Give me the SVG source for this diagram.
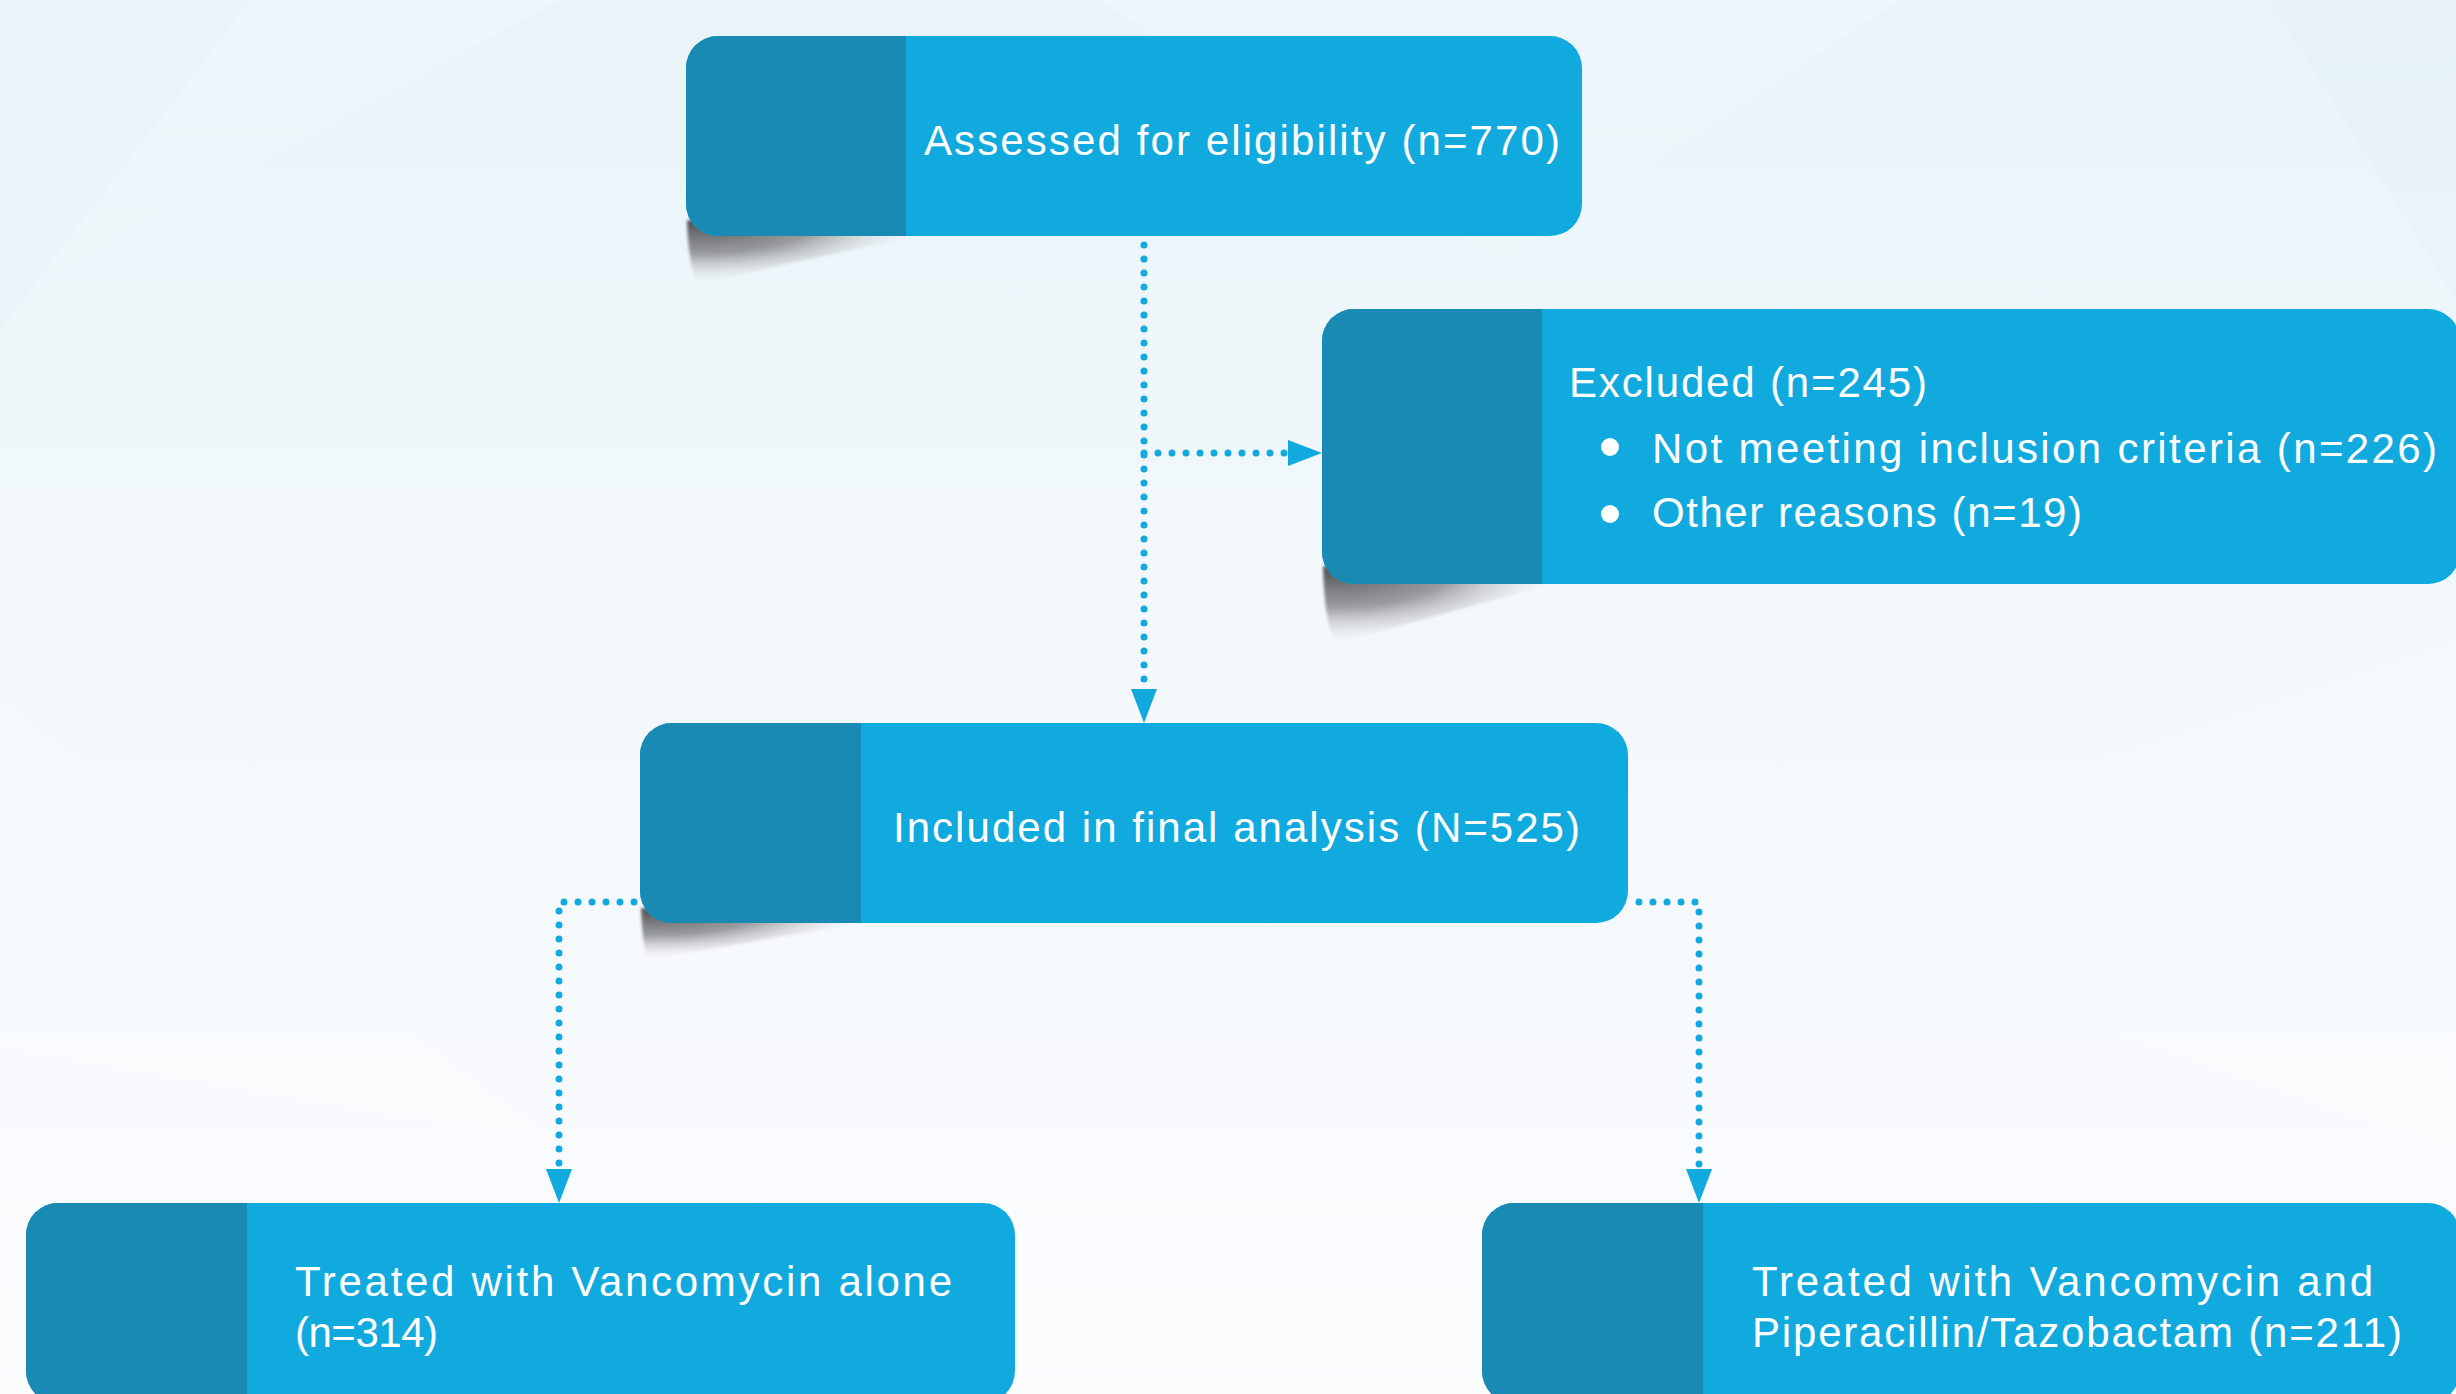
<svg xmlns="http://www.w3.org/2000/svg" width="2456" height="1394" viewBox="0 0 2456 1394">
  <defs>
    <linearGradient id="bg" x1="0" y1="0" x2="0" y2="1">
      <stop offset="0" stop-color="#e9f4f9"/>
      <stop offset="0.45" stop-color="#f3f8fb"/>
      <stop offset="1" stop-color="#fbfcfe"/>
    </linearGradient>
    <radialGradient id="shadowGrad" cx="0.05" cy="0" r="1.05">
      <stop offset="0" stop-color="#4c4d50" stop-opacity="1"/>
      <stop offset="0.5" stop-color="#7c7d80" stop-opacity="0.75"/>
      <stop offset="1" stop-color="#ffffff" stop-opacity="0"/>
    </radialGradient>
    <filter id="soft" x="-10%" y="-20%" width="120%" height="140%">
      <feGaussianBlur stdDeviation="1.5"/>
    </filter>
    <clipPath id="cBox1"><rect x="686" y="36" width="896" height="200" rx="32"/></clipPath>
    <clipPath id="cBox2"><rect x="1322" y="309" width="1138" height="275" rx="32"/></clipPath>
    <clipPath id="cBox3"><rect x="640" y="723" width="988" height="200" rx="32"/></clipPath>
    <clipPath id="cBox4"><rect x="26" y="1203" width="989" height="200" rx="32"/></clipPath>
    <clipPath id="cBox5"><rect x="1482" y="1203" width="978" height="200" rx="32"/></clipPath>
    <marker id="arrow" markerUnits="userSpaceOnUse" markerWidth="34" markerHeight="26" viewBox="0 0 34 26" refX="0" refY="13" orient="auto">
      <path d="M0,0 L34,13 L0,26 Z" fill="#12a9de"/>
    </marker>
    <style>
      .main { fill: #11aadf; }
      .dark { fill: #188ab4; }
      .shadow { fill: url(#shadowGrad); filter: url(#soft); }
      .lbl { font-family: "Liberation Sans", Arial, Helvetica, sans-serif; font-size: 42px; fill: #ffffff; }
      .dots { fill: none; stroke: #12a9de; stroke-width: 7; stroke-linecap: round; stroke-dasharray: 0 14; }
      .bullet { fill: #ffffff; }
    </style>
  </defs>

  <!-- background -->
  <rect x="0" y="0" width="2456" height="1394" fill="url(#bg)"/>
  <g id="background-shapes" fill="#ffffff" opacity="0.18">
    <polygon points="0,300 560,0 0,0"/>
    <polygon points="0,1050 550,1140 0,700"/>
    <polygon points="1100,0 1900,0 1500,260"/>
    <polygon points="1700,900 2456,640 2456,1150"/>
  </g>
  <g id="background-tint" fill="#d9ecf5" opacity="0.22">
    <polygon points="0,0 250,0 0,330"/>
    <polygon points="2270,0 2456,0 2456,300"/>
  </g>

  <!-- connectors -->
  <g id="connectors">
    <path class="dots" d="M1144,245 L1144,689" marker-end="url(#arrow)"/>
    <path class="dots" d="M1144,453 L1288,453" marker-end="url(#arrow)"/>
    <path class="dots" d="M634,902 L559,902 L559,1169" marker-end="url(#arrow)"/>
    <path class="dots" d="M1639,902 L1699,902 L1699,1169" marker-end="url(#arrow)"/>
  </g>

  <!-- node: assessed -->
  <g id="node-assessed">
    <path class="shadow" d="M687,220 Q688,262 697,284 L915,236 Z"/>
    <g clip-path="url(#cBox1)">
      <rect class="main" x="686" y="36" width="896" height="200"/>
      <rect class="dark" x="686" y="36" width="220" height="200"/>
    </g>
    <text class="lbl" x="924" y="155" textLength="636" lengthAdjust="spacing">Assessed for eligibility (n=770)</text>
  </g>

  <!-- node: excluded -->
  <g id="node-excluded">
    <path class="shadow" d="M1323,566 Q1324,615 1334,644 L1552,584 Z"/>
    <g clip-path="url(#cBox2)">
      <rect class="main" x="1322" y="309" width="1138" height="275"/>
      <rect class="dark" x="1322" y="309" width="220" height="275"/>
    </g>
    <text class="lbl" x="1569" y="397" textLength="358" lengthAdjust="spacing">Excluded (n=245)</text>
    <circle class="bullet" cx="1610" cy="447" r="9"/>
    <text class="lbl" x="1652" y="463" textLength="785" lengthAdjust="spacing">Not meeting inclusion criteria (n=226)</text>
    <circle class="bullet" cx="1610" cy="514" r="9"/>
    <text class="lbl" x="1652" y="527" textLength="430" lengthAdjust="spacing">Other reasons (n=19)</text>
  </g>

  <!-- node: included -->
  <g id="node-included">
    <path class="shadow" d="M641,908 Q642,940 647,960 L862,923 Z"/>
    <g clip-path="url(#cBox3)">
      <rect class="main" x="640" y="723" width="988" height="200"/>
      <rect class="dark" x="640" y="723" width="221" height="200"/>
    </g>
    <text class="lbl" x="893" y="842" textLength="687" lengthAdjust="spacing">Included in final analysis (N=525)</text>
  </g>

  <!-- node: vancomycin alone -->
  <g id="node-vanco-alone">
    <g clip-path="url(#cBox4)">
      <rect class="main" x="26" y="1203" width="989" height="200"/>
      <rect class="dark" x="26" y="1203" width="221" height="200"/>
    </g>
    <text class="lbl" x="295" y="1296" textLength="657" lengthAdjust="spacing">Treated with Vancomycin alone</text>
    <text class="lbl" x="295" y="1347" textLength="143" lengthAdjust="spacing">(n=314)</text>
  </g>

  <!-- node: vancomycin + pip/taz -->
  <g id="node-vanco-piptaz">
    <g clip-path="url(#cBox5)">
      <rect class="main" x="1482" y="1203" width="978" height="200"/>
      <rect class="dark" x="1482" y="1203" width="221" height="200"/>
    </g>
    <text class="lbl" x="1752" y="1296" textLength="621" lengthAdjust="spacing">Treated with Vancomycin and</text>
    <text class="lbl" x="1752" y="1347" textLength="650" lengthAdjust="spacing">Piperacillin/Tazobactam (n=211)</text>
  </g>
</svg>
